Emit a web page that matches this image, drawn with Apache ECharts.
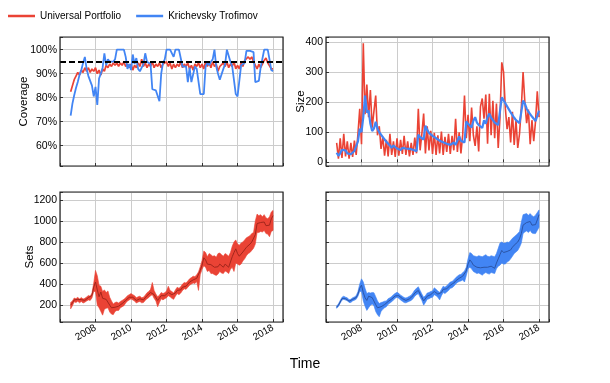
<!DOCTYPE html>
<html>
<head>
<meta charset="utf-8">
<script src="https://cdn.jsdelivr.net/npm/echarts@6/dist/echarts.min.js"></script>
<style>
  html, body { margin: 0; padding: 0; background: #fff; }
  #chart { width: 610px; height: 383px; }
</style>
</head>
<body>
<div id="chart"></div>
<script>
// samples every 0.1 year, 2006.6 .. 2018.0
const times = []
for (let i = 0; i <= 114; i++) {
  times.push(Math.round((2006.6 + i * 0.1) * 10) / 10)
}

const yearTicks = [2008, 2010, 2012, 2014, 2016, 2018]
const coverageTicks = [60, 70, 80, 90, 100]
const sizeTicks = [0, 100, 200, 300, 400]
const setsTicks = [200, 400, 600, 800, 1000, 1200]
const coverageTarget = 95

const coverageUP = [
  82.5, 85, 87.5, 89, 90.5, 89.5, 91.5, 90.5, 92.5, 91,
  92.5, 90.5, 92, 91, 92.5, 90, 91.5, 89.5, 92, 91,
  93.5, 92.5, 94, 93, 94.5, 93.5, 94.5, 93, 94.5, 93.5,
  95, 93, 94, 92.5, 94, 91.5, 93.5, 92.5, 94.5, 93,
  96, 93, 94.5, 92.5, 94, 93, 95, 92.5, 94, 93,
  94.5, 92.5, 94, 93.5, 95, 93, 94.5, 92, 94, 92.5,
  94, 93, 95, 92.5, 94, 93, 94.5, 92, 93.5, 91.5,
  94, 93, 94.5, 92.5, 94, 92, 95, 93, 94.5, 92.5,
  95, 93, 94, 91, 93, 92.5, 94.5, 93, 95, 92.5,
  94, 93, 95, 92, 93.5, 92, 94.5, 93, 95.5, 95,
  97, 96, 97, 95, 94.5, 92, 94, 92.5, 94, 95.5,
  96.5, 94.5, 95, 92, 92
]
const coverageKT = [
  72.5, 77.5, 81, 84, 86.5, 89.5, 91.5, 94.5, 97, 92,
  89, 88.5, 85, 80.5, 84.5, 77, 88, 90, 92.5, 98.5,
  93.5, 96, 95, 95.5, 95, 96, 100, 100, 100, 100,
  100, 97, 92, 94, 91.5, 98, 94, 96.5, 92, 91,
  92.5, 94, 98.5, 95, 94.5, 94, 83.5, 83, 83, 83.5,
  78.5, 90, 94.5, 96, 100, 100, 100, 100, 97, 100,
  100, 100, 100, 93, 92.5, 93, 86.5, 92.5, 86.5, 87,
  93, 92, 91.5, 81.5, 81, 81.5, 93, 94.5, 93.5, 95,
  96, 100, 93, 90, 87.5, 87.5, 92, 94, 100, 100,
  95, 93, 92.5, 81.5, 80.5, 81, 93.5, 94, 94.5, 99.5,
  100, 99.5, 100, 99, 86.5, 86.5, 87, 92.5, 93, 100,
  100, 100, 96, 91.5, 91
]

const sizeUP = [
  65, 12, 80, 15, 95, 20, 70, 12, 65, 18,
  72, 25, 95, 178, 60, 395, 160, 258, 150, 240,
  115, 170, 222, 90, 120, 45, 85, 22, 75, 20,
  95, 25, 70, 18, 80, 22, 75, 28, 88, 25,
  70, 20, 65, 25, 82, 30, 178, 40, 95, 162,
  30, 120, 40, 105, 28, 98, 25, 90, 30, 102,
  25, 85, 35, 95, 28, 88, 40, 145, 35, 100,
  30, 92, 222, 80, 158, 70, 182, 90, 55, 120,
  36, 185, 212, 145, 225, 62, 228, 90, 204, 80,
  195, 48, 150, 332, 300, 180, 110, 150, 66, 168,
  58, 140, 48, 95, 180, 300, 200, 130, 175, 60,
  140, 70, 135, 236, 150
]
const sizeKT = [
  32, 22, 30, 42, 46, 40, 30, 26, 27, 30,
  38, 42, 70, 112, 100, 150, 222, 165, 172, 128,
  104, 112, 135, 112, 100, 92, 84, 76, 68, 62,
  56, 48, 56, 50, 46, 43, 41, 48, 52, 46,
  43, 45, 44, 42, 40, 37, 92, 84, 78, 76,
  122, 108, 98, 92, 88, 84, 80, 76, 72, 70,
  67, 64, 62, 60, 58, 62, 66, 58, 56, 86,
  72, 68, 66, 136, 128, 122, 116, 138, 150, 132,
  124, 118, 114, 140, 128, 150, 162, 148, 140, 132,
  128, 124, 122, 216, 210, 196, 186, 176, 166, 157,
  148, 140, 135, 130, 128, 205, 195, 178, 168, 160,
  152, 145, 137, 140, 172
]

const setsUP = [
  200, 222, 250, 245, 255, 240, 252, 238, 245, 258,
  272, 265, 292, 372, 420, 345, 280, 325, 265, 280,
  255, 245, 200, 175, 160, 180, 195, 190, 205, 215,
  225, 245, 262, 275, 285, 275, 265, 245, 255, 260,
  245, 250, 270, 290, 300, 320, 335, 300, 272, 245,
  260, 290, 280, 290, 300, 320, 310, 300, 285, 315,
  340, 330, 345, 370, 385, 380, 400, 420, 430, 440,
  435, 455, 465, 530, 580, 650, 630, 590, 605, 585,
  570, 560, 550, 565, 590, 575, 560, 590, 575, 560,
  610, 660, 700, 735, 690, 665, 680, 705, 720, 750,
  765, 780, 800, 815, 870, 975, 960, 985, 970, 990,
  955, 945, 960, 1020, 1050
]
const setsUPLow = [
  165, 195, 232, 225, 238, 222, 235, 220, 228, 240,
  250, 245, 268, 330, 330, 200, 175, 140, 105, 160,
  170, 175, 135, 115, 110, 140, 150, 150, 175, 185,
  195, 220, 240, 250, 260, 250, 240, 220, 230, 235,
  222, 225, 245, 262, 272, 290, 300, 265, 240, 185,
  225, 260, 250, 262, 270, 290, 280, 265, 255, 285,
  310, 300, 315, 340, 355, 350, 370, 390, 400, 410,
  405, 425, 340, 490, 540, 575, 560, 520, 530, 500,
  500, 490, 482, 495, 520, 505, 500, 525, 515, 500,
  540, 560, 520, 600, 590, 580, 590, 620, 640, 670,
  690, 700, 720, 740, 780, 890, 890, 900, 895, 910,
  880, 875, 850, 900, 910
]
const setsUPHigh = [
  225, 240, 268, 262, 275, 258, 272, 258, 265, 278,
  292, 285, 315, 410, 530, 480, 390, 380, 330, 345,
  320, 335, 275, 240, 210, 225, 230, 220, 235, 245,
  255, 270, 290, 300, 310, 300, 290, 270, 280, 285,
  270, 275, 295, 318, 330, 350, 415, 340, 305, 280,
  295, 320, 310, 318, 335, 380, 340, 330, 315, 345,
  370, 360, 375, 400, 415, 410, 430, 450, 462, 475,
  470, 490, 515, 565, 625, 715, 700, 660, 690, 680,
  665, 670, 655, 690, 695, 680, 665, 690, 680, 665,
  700, 760, 800, 820, 780, 770, 790, 800, 820, 840,
  850, 860, 880, 890, 1000, 1065, 1050, 1060, 1040, 1060,
  1030, 1020, 1040, 1085, 1100
]

const setsKT = [
  180, 200, 230, 262, 270, 262, 255, 238, 240, 255,
  262, 272, 305, 360, 390, 320, 270, 245, 285, 270,
  272, 255, 205, 175, 162, 185, 195, 205, 212, 235,
  245, 258, 275, 288, 300, 290, 272, 262, 248, 245,
  252, 260, 270, 290, 315, 330, 340, 305, 275, 240,
  258, 285, 290, 300, 305, 330, 320, 305, 290, 320,
  350, 340, 355, 370, 390, 395, 410, 430, 445, 455,
  460, 475, 490, 525, 590, 630, 610, 580, 575, 560,
  565, 555, 545, 560, 575, 560, 545, 570, 560, 550,
  600, 640, 680, 720, 700, 690, 710, 700, 725, 750,
  770, 785, 800, 830, 880, 960, 975, 985, 970, 995,
  960, 950, 965, 1010, 1060
]
const setsKTLow = [
  170, 188, 218, 248, 256, 248, 242, 225, 226, 240,
  247, 256, 285, 330, 330, 240, 190, 150, 175, 200,
  210, 195, 140, 110, 90, 140, 160, 175, 185, 208,
  220, 232, 250, 265, 275, 265, 248, 238, 225, 222,
  230, 238, 245, 262, 285, 300, 310, 275, 245, 200,
  225, 255, 260, 270, 275, 300, 290, 275, 250, 290,
  320, 310, 325, 340, 360, 365, 380, 400, 415, 425,
  430, 440, 420, 480, 545, 560, 545, 520, 510, 500,
  505, 495, 485, 500, 510, 500, 495, 510, 505, 500,
  545, 570, 580, 600, 590, 590, 610, 620, 640, 665,
  690, 705, 720, 750, 790, 880, 895, 905, 890, 910,
  885, 880, 880, 910, 940
]
const setsKTHigh = [
  192, 212, 245, 275, 285, 276, 270, 252, 256, 270,
  278, 290, 330, 400, 450, 420, 360, 310, 320, 315,
  320, 318, 280, 240, 215, 225, 230, 238, 240, 262,
  270, 282, 300, 312, 322, 312, 295, 285, 272, 268,
  275, 285, 295, 318, 345, 360, 375, 340, 305, 275,
  290, 315, 320, 330, 335, 365, 350, 335, 320, 350,
  380, 370, 385, 400, 420, 425, 440, 460, 475, 488,
  492, 508, 525, 560, 640, 700, 690, 670, 665, 660,
  670, 665, 660, 670, 680, 665, 660, 670, 665, 660,
  690, 740, 790, 800, 790, 790, 800, 795, 815, 835,
  850, 865, 880, 900, 990, 1060, 1065, 1070, 1055, 1070,
  1050, 1040, 1055, 1080, 1105
]

const RED = '#EA4335'
const RED_DARK = '#A3261C'
const BLUE = '#4285F4'
const BLUE_DARK = '#2B55A8'
const FONT = '"Liberation Sans", Arial, sans-serif'

// plot boxes: coverage, size, sets (UP), sets (KT)
const grids = [
  { left: 60, top: 37, width: 223, height: 129 },
  { left: 326, top: 37, width: 223, height: 129 },
  { left: 60, top: 192, width: 223, height: 130 },
  { left: 326, top: 192, width: 223, height: 130 },
]

const pairs = (ys) => times.map((t, i) => [t, ys[i]])

const xAxis = (gridIndex, showLabels) => ({
  type: 'value',
  gridIndex,
  min: 2006,
  max: 2018.56,
  interval: 2,
  axisLine: { show: false },
  axisTick: { show: true, inside: true, length: 3, lineStyle: { color: '#333' } },
  splitLine: { show: true, lineStyle: { color: '#cccccc', width: 1 } },
  axisLabel: {
    show: showLabels,
    rotate: 30,
    margin: 5,
    fontSize: 10,
    fontFamily: FONT,
    color: '#000',
    formatter: (v) => (yearTicks.includes(v) ? String(v) : ''),
  },
})

const yAxis = (gridIndex, opts) => ({
  type: 'value',
  gridIndex,
  min: opts.min,
  max: opts.max,
  splitNumber: opts.splitNumber,
  name: opts.name || '',
  nameLocation: 'middle',
  nameGap: opts.nameGap || 0,
  nameMoveOverlap: false,
  nameTextStyle: { fontSize: 11.5, fontFamily: FONT, color: '#000' },
  axisLine: { show: false },
  axisTick: { show: true, inside: true, length: 3, lineStyle: { color: '#333' } },
  splitLine: { show: true, lineStyle: { color: '#cccccc', width: 1 } },
  axisLabel: {
    show: opts.showLabels !== false,
    margin: 3,
    fontSize: 10.5,
    fontFamily: FONT,
    color: '#000',
    formatter: (v) => (opts.ticks.includes(v) ? v + (opts.suffix || '') : ''),
  },
})

const line = (name, xi, data, color, width) => ({
  name,
  type: 'line',
  xAxisIndex: xi,
  yAxisIndex: xi,
  data,
  color,
  showSymbol: false,
  symbol: 'none',
  lineStyle: { color, width },
})

// filled band between lo and hi, as one polygon placed through the axes
const band = (xi, lo, hi, color) => ({
  type: 'custom',
  xAxisIndex: xi,
  yAxisIndex: xi,
  silent: true,
  data: [[times[0], lo[0]]],
  renderItem: (params, api) => {
    const upper = times.map((t, i) => api.coord([t, hi[i]]))
    const lower = times.map((t, i) => api.coord([t, lo[i]])).reverse()
    return {
      type: 'polygon',
      shape: { points: upper.concat(lower) },
      style: { fill: color, stroke: color, lineWidth: 0.6 },
    }
  },
})

const chart = echarts.init(document.getElementById('chart'))
chart.setOption({
  animation: false,
  backgroundColor: '#fff',
  textStyle: { fontFamily: FONT },
  legend: {
    data: ['Universal Portfolio', 'Krichevsky Trofimov'],
    left: 8,
    top: 11,
    padding: 0,
    icon: 'rect',
    itemWidth: 27,
    itemHeight: 2.5,
    itemGap: 15,
    textStyle: { fontSize: 10, fontFamily: FONT, color: '#000' },
  },
  grid: grids.map((g) => ({ ...g, outerBoundsMode: 'none', containLabel: false })),
  xAxis: [xAxis(0, false), xAxis(1, false), xAxis(2, true), xAxis(3, true)],
  yAxis: [
    yAxis(0, { min: 51.5, max: 105.3, splitNumber: 5, ticks: coverageTicks, suffix: '%', name: 'Coverage', nameGap: 30 }),
    yAxis(1, { min: -12, max: 416, splitNumber: 4, ticks: sizeTicks, name: 'Size', nameGap: 19 }),
    yAxis(2, { min: 40, max: 1275, splitNumber: 6, ticks: setsTicks, name: 'Sets', nameGap: 24 }),
    yAxis(3, { min: 40, max: 1275, splitNumber: 6, ticks: setsTicks, showLabels: false }),
  ],
  graphic: [
    ...grids.map((g) => ({
      type: 'rect',
      silent: true,
      z: 100,
      shape: { x: g.left, y: g.top, width: g.width, height: g.height },
      style: { fill: null, stroke: '#222', lineWidth: 1.2 },
    })),
    {
      type: 'text',
      left: 'center',
      top: 357,
      style: { text: 'Time', fontSize: 14, fontFamily: FONT, fill: '#000' },
    },
  ],
  series: [
    line('Universal Portfolio', 0, pairs(coverageUP), RED, 1.7),
    {
      ...line('Krichevsky Trofimov', 0, pairs(coverageKT), BLUE, 1.8),
      markLine: {
        silent: true,
        symbol: 'none',
        label: { show: false },
        lineStyle: { color: '#000', type: [6, 3], width: 2 },
        data: [{ yAxis: coverageTarget }],
      },
    },
    line('Universal Portfolio', 1, pairs(sizeUP), RED, 1.6),
    line('Krichevsky Trofimov', 1, pairs(sizeKT), BLUE, 2.2),
    band(2, setsUPLow, setsUPHigh, RED),
    line('', 2, pairs(setsUP), RED_DARK, 1),
    band(3, setsKTLow, setsKTHigh, BLUE),
    line('', 3, pairs(setsKT), BLUE_DARK, 1),
  ],
})
</script>
</body>
</html>
